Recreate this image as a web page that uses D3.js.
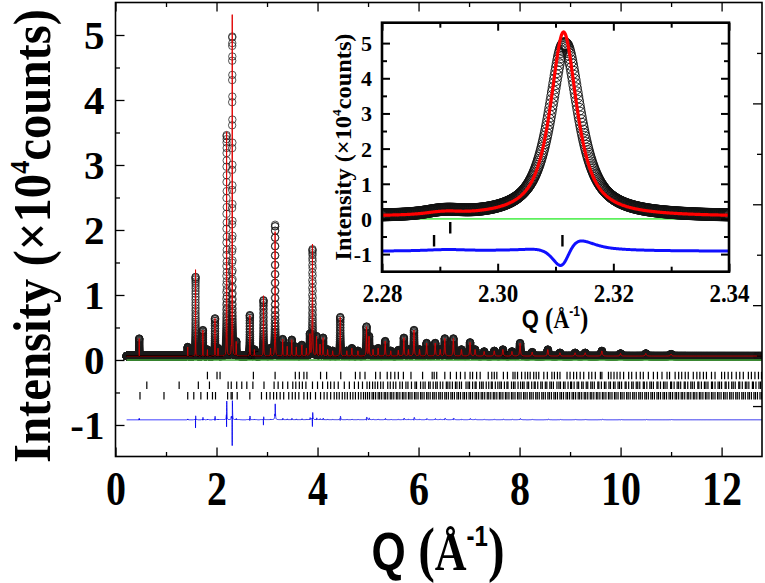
<!DOCTYPE html>
<html><head><meta charset="utf-8">
<script src="https://cdn.jsdelivr.net/npm/d3@7"></script>
<style>body{margin:0;background:#fff}svg{display:block}</style>
</head><body>
<svg id="c" width="765" height="583"></svg>
<script>
// ---------------- data ----------------
// Bragg peaks: position (Å^-1), observed height and calculated height (×10^4 counts)
const peakQ    = [0.47,1.43,1.585,1.73,1.82,1.97,2.03,2.20,2.2895,2.2918,2.3116,2.39,2.66,2.75,2.93,3.07,3.16,3.31,3.40,3.49,3.58,3.69,3.78,3.85,3.90,3.98,4.05,4.11,4.20,4.30,4.45,4.58,4.68,4.80,4.97,5.02,5.10,5.20,5.34,5.45,5.60,5.71,5.80,5.91,6.02,6.16,6.33,6.43,6.52,6.69,6.85,7.02,7.12,7.30,7.50,7.67,7.85,8.01,8.25,8.56,8.80,9.10,9.30,9.63,10.0,10.5,11.0];
const peakObs  = [0.27,0.14,1.22,0.40,0.10,0.58,0.12,3.40,0.06,0.07,4.92,0.22,0.63,0.10,0.86,0.12,2.02,0.26,0.15,0.25,0.14,0.17,0.12,0.33,1.64,0.30,0.18,0.28,0.10,0.08,0.60,0.08,0.12,0.08,0.45,0.30,0.10,0.12,0.23,0.08,0.09,0.28,0.10,0.40,0.10,0.20,0.20,0.10,0.27,0.27,0.10,0.21,0.10,0.07,0.08,0.10,0.07,0.20,0.06,0.10,0.05,0.05,0.05,0.08,0.04,0.04,0.03];
const peakCalc = [0.27,0.14,1.33,0.40,0.10,0.58,0.12,3.45,0.04,0.05,5.25,0.22,0.63,0.10,0.93,0.12,1.92,0.26,0.15,0.25,0.14,0.17,0.12,0.33,1.72,0.30,0.18,0.28,0.10,0.08,0.60,0.08,0.12,0.08,0.45,0.30,0.10,0.12,0.23,0.08,0.09,0.28,0.10,0.40,0.10,0.20,0.20,0.10,0.27,0.27,0.10,0.21,0.10,0.07,0.08,0.10,0.07,0.20,0.06,0.10,0.05,0.05,0.05,0.08,0.04,0.04,0.03];
const obsBackground = 0.06, calcBackground = 0.06, diffOffset = -0.92;
const qStart = 0.22, qEnd = 12.8;
const backgroundLine = [[0.22, 0], [12.8, 0]];

// Bragg reflection markers for the three phases
const bragg1 = [1.82,2.01,2.07,2.73,3.16,3.56,3.64,3.73,3.79,4.06,4.18,4.46,4.75,4.84,4.94,5.15,5.24,5.38,5.45,5.53,5.60,5.70,5.85,6.08,6.27,6.31,6.36,6.52,6.63,6.75,6.83,6.92,7.02,7.07,7.15,7.22,7.38,7.45,7.50,7.55,7.68,7.76,7.87,7.91,7.96,8.04,8.11,8.16,8.21,8.28,8.33,8.38,8.48,8.55,8.64,8.69,8.75,8.80,8.94,9.00,9.07,9.13,9.20,9.27,9.37,9.43,9.50,9.60,9.63,9.76,9.81,9.87,9.93,9.99,10.06,10.16,10.22,10.31,10.39,10.45,10.55,10.65,10.73,10.82,10.92,10.97,11.08,11.15,11.21,11.28,11.34,11.44,11.51,11.57,11.64,11.70,11.80,11.87,12.00,12.06,12.13,12.20,12.29,12.36,12.43,12.53,12.59,12.66,12.73,12.79];
const bragg2 = [0.62,1.26,1.64,1.86,2.23,2.2918,2.40,2.50,2.60,2.72,2.94,3.14,3.22,3.31,3.41,3.51,3.57,3.64,3.70,3.77,3.90,4.00,4.10,4.20,4.26,4.33,4.41,4.53,4.63,4.73,4.81,4.89,4.98,5.03,5.09,5.14,5.19,5.25,5.30,5.39,5.44,5.50,5.55,5.63,5.68,5.75,5.79,5.86,5.93,5.96,6.04,6.09,6.13,6.20,6.23,6.29,6.34,6.37,6.43,6.48,6.55,6.58,6.62,6.67,6.73,6.76,6.81,6.85,6.94,6.98,7.01,7.07,7.12,7.14,7.21,7.25,7.28,7.34,7.39,7.44,7.46,7.52,7.57,7.61,7.64,7.70,7.75,7.77,7.84,7.88,7.91,7.97,8.02,8.06,8.09,8.15,8.18,8.24,8.29,8.31,8.36,8.42,8.45,8.51,8.54,8.60,8.63,8.67,8.74,8.78,8.81,8.87,8.90,8.96,9.01,9.03,9.08,9.14,9.17,9.23,9.26,9.32,9.35,9.41,9.44,9.48,9.55,9.57,9.62,9.68,9.71,9.77,9.80,9.86,9.89,9.95,9.98,10.02,10.09,10.11,10.16,10.22,10.25,10.31,10.34,10.38,10.45,10.47,10.52,10.58,10.61,10.65,10.72,10.74,10.79,10.85,10.88,10.92,10.99,11.01,11.06,11.12,11.15,11.19,11.26,11.28,11.33,11.39,11.42,11.46,11.53,11.55,11.60,11.66,11.69,11.73,11.80,11.82,11.87,11.93,11.96,12.00,12.07,12.09,12.14,12.20,12.23,12.27,12.34,12.36,12.41,12.47,12.50,12.54,12.61,12.63,12.68,12.74,12.77];
const bragg3 = [0.485,0.96,1.43,1.55,1.69,1.82,1.92,1.98,2.22,2.289,2.3112,2.41,2.66,2.89,2.99,3.06,3.13,3.19,3.26,3.33,3.43,3.50,3.56,3.63,3.73,3.80,3.86,3.96,4.06,4.13,4.19,4.26,4.33,4.38,4.43,4.49,4.54,4.59,4.65,4.70,4.75,4.81,4.86,4.91,4.95,4.99,5.03,5.08,5.11,5.15,5.20,5.23,5.27,5.32,5.35,5.39,5.44,5.47,5.51,5.56,5.59,5.63,5.68,5.71,5.75,5.80,5.83,5.87,5.92,5.95,5.99,6.04,6.07,6.11,6.16,6.19,6.23,6.28,6.31,6.35,6.40,6.43,6.47,6.52,6.55,6.59,6.64,6.67,6.71,6.76,6.79,6.83,6.88,6.91,6.95,7.00,7.03,7.07,7.12,7.15,7.19,7.24,7.27,7.31,7.36,7.39,7.43,7.48,7.51,7.55,7.60,7.63,7.67,7.72,7.75,7.79,7.84,7.87,7.91,7.96,7.99,8.03,8.08,8.11,8.15,8.20,8.23,8.27,8.32,8.35,8.39,8.44,8.47,8.51,8.56,8.59,8.63,8.68,8.71,8.75,8.80,8.83,8.87,8.92,8.95,8.99,9.04,9.07,9.11,9.16,9.19,9.23,9.28,9.31,9.35,9.40,9.43,9.47,9.52,9.55,9.59,9.64,9.67,9.71,9.76,9.79,9.83,9.88,9.91,9.95,10.00,10.03,10.07,10.12,10.15,10.19,10.24,10.27,10.31,10.36,10.39,10.43,10.48,10.51,10.55,10.60,10.63,10.67,10.72,10.75,10.79,10.84,10.87,10.91,10.96,10.99,11.03,11.08,11.11,11.15,11.20,11.23,11.27,11.32,11.35,11.39,11.44,11.47,11.51,11.56,11.59,11.63,11.68,11.71,11.75,11.80,11.83,11.87,11.92,11.95,11.99,12.04,12.07,12.11,12.16,12.19,12.23,12.28,12.31,12.35,12.40,12.43,12.47,12.52,12.55,12.59,12.64,12.67,12.71,12.76,12.79];
const braggRows = [bragg1, bragg2, bragg3];
const braggRowY = [-0.24, -0.39, -0.55];        // main panel
const insetBraggRowY = [0.10, -0.25, -0.62];    // inset panel

// axis ticks
const mainXTicks = [0,2,4,6,8,10,12];
const mainXMinor = [1,3,5,7,9,11];
const mainYTicks = [-1,0,1,2,3,4,5];
const mainYMinor = [-0.5,0.5,1.5,2.5,3.5,4.5];
const rightMajor = [1,3,5,7], rightMinor = [2,4,6,8];
const insetXTicks = [2.28,2.30,2.32,2.34];
const insetXMinor = [2.29,2.31,2.33];
const insetYTicks = [-1,0,1,2,3,4,5];
const insetYMinor = [-0.5,0.5,1.5,2.5,3.5,4.5];

// ---------------- profile from the peak list ----------------
const widthPerQ = 0.00268, calcWidthRatio = 0.9, calcShiftPerQ = -0.0000865, eta = 0.9;
function profile(q, heights, calc) {
  let s = calc ? calcBackground : obsBackground;
  for (let i = 0; i < peakQ.length; i++) {
    let w = widthPerQ * peakQ[i] * (calc ? calcWidthRatio : 1);
    let c = peakQ[i] * (1 + (calc ? calcShiftPerQ : 0));
    let t = (q - c) / w;
    if (Math.abs(t) > 80) continue;
    s += heights[i] * (eta / (1 + 4 * t * t) + (1 - eta) * Math.exp(-2.7726 * t * t));
  }
  return s;
}
function makeData(q0, q1, ratio) {
  const out = [];
  for (let q = q0; q <= q1; q *= ratio) {
    const o = profile(q, peakObs, false), c = profile(q, peakCalc, true);
    out.push({q, obs: o, calc: c, diff: diffOffset + o - c});
  }
  return out;
}
const mainData = makeData(qStart, qEnd, 1.00015);
const insetData = makeData(2.2797, 2.3403, 1.00005);

// ---------------- drawing ----------------
const svg = d3.select("#c");
const SERIF = "'Liberation Serif','Times New Roman',serif";
const SANS = "'Liberation Sans',Arial,sans-serif";

const M = {l:115.5, r:762, t:2.5, b:456.5};
const x = d3.scaleLinear().domain([0, 12.8]).range([M.l, M.r]);
const y = d3.scaleLinear().domain([-1.485, 5.5]).range([M.b, M.t]);
const yR = d3.scaleLinear().domain([0, 9]).range([M.b, M.t]);

svg.append("clipPath").attr("id","mclip").append("rect")
  .attr("x",M.l).attr("y",M.t).attr("width",M.r-M.l).attr("height",M.b-M.t);

const gm = svg.append("g").attr("clip-path","url(#mclip)");
gm.append("g").selectAll("circle").data(mainData).join("circle")
  .attr("cx", d=>x(d.q)).attr("cy", d=>y(d.obs)).attr("r",3.7)
  .attr("fill","none").attr("stroke","#1a1a1a").attr("stroke-width",0.75);
gm.append("path").datum(mainData)
  .attr("d", d3.line().x(d=>x(d.q)).y(d=>y(d.calc)))
  .attr("fill","none").attr("stroke","#e00000").attr("stroke-width",1);
gm.append("path").datum(backgroundLine)
  .attr("d", d3.line().x(d=>x(d[0])).y(d=>y(d[1])))
  .attr("fill","none").attr("stroke","#3fa535").attr("stroke-width",1.6);
gm.append("path").datum(mainData)
  .attr("d", d3.line().x(d=>x(d.q)).y(d=>y(d.diff)))
  .attr("fill","none").attr("stroke","#0000ee").attr("stroke-width",0.9);
braggRows.forEach((row, k) => {
  gm.append("g").selectAll("line").data(row).join("line")
    .attr("x1", d=>x(d)).attr("x2", d=>x(d))
    .attr("y1", y(braggRowY[k]+0.058)).attr("y2", y(braggRowY[k]-0.058))
    .attr("stroke","#000").attr("stroke-width",1.2);
});

// main axes (inward ticks)
function styleAxis(g, w){ g.select(".domain").remove(); g.selectAll("line").attr("stroke","#000").attr("stroke-width",w); }
const ax = svg.append("g").attr("transform",`translate(0,${M.b})`)
  .call(d3.axisBottom(x).tickValues(mainXTicks).tickSize(-9).tickFormat(d3.format("d")));
styleAxis(ax,1.3);
ax.selectAll("text").attr("y",null).attr("dy",null)
  .attr("transform",`translate(0,${505-M.b}) scale(1,1.22)`)
  .style("font-family",SERIF).style("font-weight","bold").style("font-size","40px").attr("fill","#000");
styleAxis(svg.append("g").attr("transform",`translate(0,${M.b})`)
  .call(d3.axisBottom(x).tickValues(mainXMinor).tickSize(-4.5).tickFormat("")),1.3);
styleAxis(svg.append("g").attr("transform",`translate(0,${M.t})`)
  .call(d3.axisTop(x).tickValues(mainXTicks).tickSize(-9).tickFormat("")),1.3);
styleAxis(svg.append("g").attr("transform",`translate(0,${M.t})`)
  .call(d3.axisTop(x).tickValues(mainXMinor).tickSize(-4.5).tickFormat("")),1.3);
const ay = svg.append("g").attr("transform",`translate(${M.l},0)`)
  .call(d3.axisLeft(y).tickValues(mainYTicks).tickSize(-9).tickPadding(11)
    .tickFormat(d => d < 0 ? "-" + (-d) : String(d)));
styleAxis(ay,1.3);
ay.selectAll("text").attr("dy","0.34em")
  .style("font-family",SERIF).style("font-weight","bold").style("font-size","41px").attr("fill","#000");
styleAxis(svg.append("g").attr("transform",`translate(${M.l},0)`)
  .call(d3.axisLeft(y).tickValues(mainYMinor).tickSize(-4.5).tickFormat("")),1.3);
styleAxis(svg.append("g").attr("transform",`translate(${M.r},0)`)
  .call(d3.axisRight(yR).tickValues(rightMajor).tickSize(-9).tickFormat("")),1.3);
styleAxis(svg.append("g").attr("transform",`translate(${M.r},0)`)
  .call(d3.axisRight(yR).tickValues(rightMinor).tickSize(-5).tickFormat("")),1.3);
svg.append("rect").attr("x",M.l).attr("y",M.t).attr("width",M.r-M.l).attr("height",M.b-M.t)
  .attr("fill","none").attr("stroke","#000").attr("stroke-width",1.6);

// main titles
const yt = svg.append("text").attr("transform","translate(50,236) rotate(-90)")
  .attr("text-anchor","middle").attr("textLength",454).attr("lengthAdjust","spacingAndGlyphs")
  .style("font-family",SERIF).style("font-weight","bold").style("font-size","52px").attr("fill","#000");
yt.append("tspan").text("Intensity (×10");
yt.append("tspan").attr("dy",-21).style("font-size","28px").text("4");
yt.append("tspan").attr("dy",21).text("counts)");

function qTitle(sel, cx, base, s, sy) {
  const t = sel.append("text").attr("x",cx).attr("y",base/sy).attr("transform",`scale(1,${sy})`)
    .attr("text-anchor","middle").style("font-weight","bold").attr("fill","#000");
  t.append("tspan").style("font-family",SANS).style("font-size",(44*s)+"px").text("Q");
  t.append("tspan").style("font-family",SERIF).style("font-size",(50*s)+"px").text(" (");
  t.append("tspan").style("font-family",SERIF).style("font-size",(44*s)+"px").text("Å");
  t.append("tspan").style("font-family",SANS).style("font-size",(24*s)+"px").attr("dy",-20*s).text("-1");
  t.append("tspan").style("font-family",SERIF).style("font-size",(50*s)+"px").attr("dy",20*s).text(")");
}
qTitle(svg, 438, 570, 1, 1.22);

// ---------------- inset ----------------
const I = {l:382, r:729, t:22.7, b:271.7};
const xi = d3.scaleLinear().domain([2.28, 2.34]).range([I.l, I.r]);
const yi = d3.scaleLinear().domain([-1.5, 5.58]).range([I.b, I.t]);
svg.append("rect").attr("x",I.l).attr("y",I.t).attr("width",I.r-I.l).attr("height",I.b-I.t).attr("fill","#fff");
svg.append("clipPath").attr("id","iclip").append("rect")
  .attr("x",I.l).attr("y",I.t).attr("width",I.r-I.l).attr("height",I.b-I.t);
const gi = svg.append("g").attr("clip-path","url(#iclip)");
gi.append("path").datum(backgroundLine)
  .attr("d", d3.line().x(d=>xi(d[0])).y(d=>yi(d[1])))
  .attr("fill","none").attr("stroke","#5ef05e").attr("stroke-width",1.8);
gi.append("g").selectAll("circle").data(insetData).join("circle")
  .attr("cx", d=>xi(d.q)).attr("cy", d=>yi(d.obs)).attr("r",6)
  .attr("fill","none").attr("stroke","#111").attr("stroke-width",0.9);
gi.append("path").datum(insetData)
  .attr("d", d3.line().x(d=>xi(d.q)).y(d=>yi(d.calc)))
  .attr("fill","none").attr("stroke","#ff0000").attr("stroke-width",3.2);
gi.append("path").datum(insetData)
  .attr("d", d3.line().x(d=>xi(d.q)).y(d=>yi(d.diff)))
  .attr("fill","none").attr("stroke","#1010ff").attr("stroke-width",3);
braggRows.forEach((row, k) => {
  gi.append("g").selectAll("line").data(row.filter(d=>d>=2.28&&d<=2.34)).join("line")
    .attr("x1", d=>xi(d)).attr("x2", d=>xi(d))
    .attr("y1", yi(insetBraggRowY[k]+0.165)).attr("y2", yi(insetBraggRowY[k]-0.165))
    .attr("stroke","#000").attr("stroke-width",2.4);
});

const ix = svg.append("g").attr("transform",`translate(0,${I.b})`)
  .call(d3.axisBottom(xi).tickValues(insetXTicks).tickSize(-8).tickFormat(d3.format(".2f")));
styleAxis(ix,2);
ix.selectAll("text").attr("y",null).attr("dy",null)
  .attr("transform",`translate(0,${302-I.b}) scale(1,1.1)`)
  .style("font-family",SERIF).style("font-weight","bold").style("font-size","23px").attr("fill","#000");
styleAxis(svg.append("g").attr("transform",`translate(0,${I.b})`)
  .call(d3.axisBottom(xi).tickValues(insetXMinor).tickSize(-5).tickFormat("")),2);
styleAxis(svg.append("g").attr("transform",`translate(0,${I.t})`)
  .call(d3.axisTop(xi).tickValues(insetXTicks).tickSize(-8).tickFormat("")),2);
styleAxis(svg.append("g").attr("transform",`translate(0,${I.t})`)
  .call(d3.axisTop(xi).tickValues(insetXMinor).tickSize(-5).tickFormat("")),2);
const iy = svg.append("g").attr("transform",`translate(${I.l},0)`)
  .call(d3.axisLeft(yi).tickValues(insetYTicks).tickSize(-8).tickPadding(10)
    .tickFormat(d => d < 0 ? "-" + (-d) : String(d)));
styleAxis(iy,2);
iy.selectAll("text").attr("dy","0.34em")
  .style("font-family",SERIF).style("font-weight","bold").style("font-size","22px").attr("fill","#000");
styleAxis(svg.append("g").attr("transform",`translate(${I.l},0)`)
  .call(d3.axisLeft(yi).tickValues(insetYMinor).tickSize(-5).tickFormat("")),2);
styleAxis(svg.append("g").attr("transform",`translate(${I.r},0)`)
  .call(d3.axisRight(yi).tickValues(insetYTicks).tickSize(-8).tickFormat("")),2);
styleAxis(svg.append("g").attr("transform",`translate(${I.r},0)`)
  .call(d3.axisRight(yi).tickValues(insetYMinor).tickSize(-5).tickFormat("")),2);
svg.append("rect").attr("x",I.l).attr("y",I.t).attr("width",I.r-I.l).attr("height",I.b-I.t)
  .attr("fill","none").attr("stroke","#000").attr("stroke-width",2.6);

const iyt = svg.append("text").attr("transform","translate(351,147) rotate(-90)")
  .attr("text-anchor","middle").attr("textLength",227).attr("lengthAdjust","spacingAndGlyphs")
  .style("font-family",SERIF).style("font-weight","bold").style("font-size","24px").attr("fill","#000");
iyt.append("tspan").text("Intensity (×10");
iyt.append("tspan").attr("dy",-10).style("font-size","13px").text("4");
iyt.append("tspan").attr("dy",10).text("counts)");
qTitle(svg, 555, 328, 0.5, 1.15);
</script>
</body></html>
